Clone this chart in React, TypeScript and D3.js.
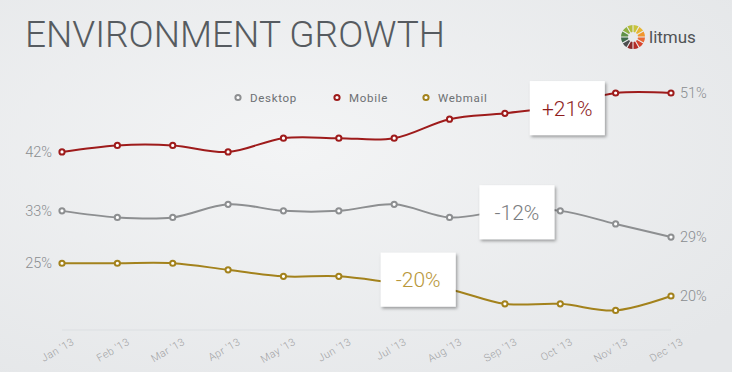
import * as d3 from 'd3';
import React, { useEffect, useRef } from 'react';

const months = ["Jan '13", "Feb '13", "Mar '13", "Apr '13", "May '13", "Jun '13", "Jul '13", "Aug '13", "Sep '13", "Oct '13", "Nov '13", "Dec '13"];
const desktop = [33, 32, 32, 34, 33, 33, 34, 32, 33, 33, 31, 29];
const mobile = [42, 43, 43, 42, 44.1, 44.1, 44.1, 47, 47.9, 49, 51, 51];
const webmail = [25, 25, 25, 24, 23, 23, 22, 21, 18.8, 18.8, 17.8, 20];
const seriesNames = ['Desktop', 'Mobile', 'Webmail'];
const seriesColors = ['#8d8f91', '#9e1b1b', '#a3821c'];
const changeLabels = ['-12%', '+21%', '-20%'];
const changeColors = ['#7b7d80', '#8e1c1c', '#b8973a'];
// where each change box sits: month index and value
const changeMonth = [8, 9, 6];
const changeValue = [32.8, 48.7, 22.5];
const logoColors = ['#c9c43b', '#e8b634', '#f0962e', '#ea6a36', '#d8452d', '#b42c27', '#8a2a2a', '#4c4f50', '#3f6b4c', '#5f9147', '#8fb043', '#b5bd3c'];

export default function App() {
  const ref = useRef<SVGSVGElement>(null);

  useEffect(() => {
    const width = 732, height = 372;
    const svg = d3.select(ref.current);
    svg.selectAll('*').remove();

    const defs = svg.append('defs');
    const grad = defs.append('radialGradient').attr('id', 'bg').attr('cx', '40%').attr('cy', '40%').attr('r', '75%');
    grad.append('stop').attr('offset', '0%').attr('stop-color', '#f3f4f5');
    grad.append('stop').attr('offset', '100%').attr('stop-color', '#e5e7e9');
    const shadow = defs.append('filter').attr('id', 'shadow').attr('x', '-20%').attr('y', '-20%').attr('width', '140%').attr('height', '150%');
    shadow.append('feDropShadow').attr('dx', 1.5).attr('dy', 2).attr('stdDeviation', 1.5)
      .attr('flood-color', '#000').attr('flood-opacity', 0.35);

    svg.append('rect').attr('width', width).attr('height', height).attr('fill', 'url(#bg)');

    // title
    svg.append('text')
      .attr('x', 25).attr('y', 47)
      .attr('textLength', 420).attr('lengthAdjust', 'spacingAndGlyphs')
      .style('font-family', 'Roboto, sans-serif').style('font-weight', 300)
      .style('font-size', '37px').attr('fill', '#565b60')
      .text('ENVIRONMENT GROWTH');

    // litmus logo
    const logo = svg.append('g').attr('transform', 'translate(633,37)');
    const pie = d3.pie<string>().value(() => 1).sort(null).padAngle(0.08);
    const arc = d3.arc<d3.PieArcDatum<string>>().innerRadius(5).outerRadius(12);
    logo.selectAll('path').data(pie(logoColors)).enter().append('path')
      .attr('d', arc).attr('fill', d => d.data);
    svg.append('text')
      .attr('x', 649).attr('y', 43)
      .style('font-family', 'Roboto, sans-serif').style('font-size', '17px')
      .attr('fill', '#4f5355').text('litmus');

    const x = d3.scalePoint<string>().domain(months).range([62, 671]);
    const y = d3.scaleLinear().domain([20, 51]).range([296, 93]);

    // x axis
    const xAxis = svg.append('g').attr('transform', 'translate(0,330)');
    xAxis.append('line').attr('x1', 62).attr('x2', 671).attr('stroke', '#dcdfe2').attr('stroke-width', 1);
    xAxis.selectAll('text').data(months).enter().append('text')
      .attr('transform', d => 'translate(' + (x(d)! + 13) + ',14) rotate(-30)')
      .attr('text-anchor', 'end')
      .style('font-family', 'Roboto, sans-serif').style('font-weight', 300).style('font-size', '10.5px')
      .attr('fill', '#9fa1a3').style('letter-spacing', '0.4px')
      .text(d => d);

    const data = [desktop, mobile, webmail];
    const line = d3.line<number>()
      .x((d, i) => x(months[i])!)
      .y(d => y(d))
      .curve(d3.curveCatmullRom.alpha(0.5));

    const series = svg.append('g').selectAll('g').data(data).enter().append('g');
    series.append('path')
      .attr('d', d => line(d))
      .attr('fill', 'none')
      .attr('stroke', (d, i) => seriesColors[i])
      .attr('stroke-width', 2);
    series.each(function (vals, si) {
      d3.select(this).selectAll('circle').data(vals).enter().append('circle')
        .attr('cx', (d, i) => x(months[i])!)
        .attr('cy', d => y(d))
        .attr('r', 2.6)
        .attr('fill', '#fff')
        .attr('stroke', seriesColors[si])
        .attr('stroke-width', 2);
    });

    const fmt = (v: number) => d3.format('.0f')(v) + '%';
    // start / end values
    svg.append('g').selectAll('text').data(data).enter().append('text')
      .attr('x', 52).attr('y', d => y(d[0])).attr('dy', '0.35em')
      .attr('text-anchor', 'end')
      .style('font-family', 'Roboto, sans-serif').style('font-weight', 300).style('font-size', '14.5px')
      .attr('fill', '#8a8d90').text(d => fmt(d[0]));
    svg.append('g').selectAll('text').data(data).enter().append('text')
      .attr('x', 680).attr('y', d => y(d[d.length - 1])).attr('dy', '0.35em')
      .style('font-family', 'Roboto, sans-serif').style('font-weight', 300).style('font-size', '14.5px')
      .attr('fill', '#8a8d90').text(d => fmt(d[d.length - 1]));

    // legend
    const legendX = [238, 337, 426];
    const legend = svg.append('g').selectAll('g').data(seriesNames).enter().append('g')
      .attr('transform', (d, i) => 'translate(' + legendX[i] + ',97.5)');
    legend.append('circle').attr('r', 2.6).attr('fill', '#fff')
      .attr('stroke', (d, i) => seriesColors[i]).attr('stroke-width', 2);
    legend.append('text').attr('x', 12).attr('dy', '0.35em')
      .style('font-family', 'Roboto, sans-serif').style('font-size', '11.5px')
      .style('letter-spacing', '0.7px').attr('fill', '#6d7073').text(d => d);

    // change boxes
    const boxW = 75, boxH = 54;
    const dxs = [12, 7, 24];
    const boxes = svg.append('g').selectAll('g').data(changeLabels).enter().append('g')
      .attr('transform', (d, i) => 'translate(' + (x(months[changeMonth[i]])! + dxs[i]) + ',' + y(changeValue[i]) + ')');
    boxes.append('rect')
      .attr('x', -boxW / 2).attr('y', -boxH / 2).attr('width', boxW).attr('height', boxH)
      .attr('fill', '#fff').attr('filter', 'url(#shadow)');
    boxes.append('text').attr('text-anchor', 'middle').attr('dy', '0.36em')
      .style('font-family', 'Roboto, sans-serif').style('font-weight', 300).style('font-size', '21px')
      .attr('fill', (d, i) => changeColors[i]).text(d => d);
  }, []);

  return (
    <svg ref={ref} width={732} height={372} style={{ position: 'absolute', left: 0, top: 0 }} />
  );
}
